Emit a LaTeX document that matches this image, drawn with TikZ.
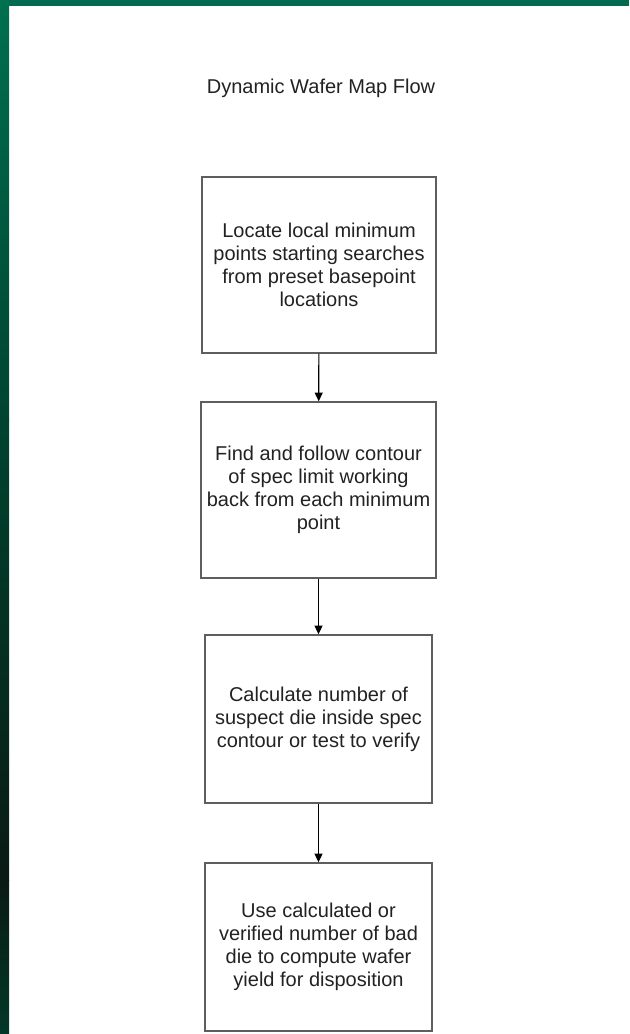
\documentclass[tikz,border=0pt]{standalone}
\usepackage{fontspec}
\setmainfont{Liberation Sans}
\usetikzlibrary{arrows.meta}
\definecolor{framegreen}{HTML}{006B50}
\definecolor{greentop}{HTML}{00704F}
\definecolor{greenmid}{HTML}{00442F}
\definecolor{greendark}{HTML}{0A1A14}
\definecolor{greenbot}{HTML}{033828}
\definecolor{boxgray}{HTML}{5E5E5E}
\definecolor{textgray}{HTML}{222222}

\begin{document}
\begin{tikzpicture}[x=0.75pt,y=-0.75pt]
\tikzset{
  stepbox/.style={rectangle,draw=boxgray,line width=1.1pt,align=center,inner sep=2pt,
    font=\fontsize{15pt}{17.25pt}\selectfont,text=textgray},
  titletext/.style={font=\fontsize{15pt}{17.25pt}\selectfont,text=textgray,inner sep=0pt},
  directed/.style={-{Triangle[length=6.5pt,width=6pt]},line width=0.8pt,black}
}
\useasboundingbox (0,0) rectangle (629,1034);
% frame
\fill[white] (0,0) rectangle (629,1034);
\fill[framegreen] (0,0) rectangle (629,6);
\shade[top color=greentop,bottom color=greenmid] (0,0) rectangle (9,420);
\shade[top color=greenmid,bottom color=greendark] (0,420) rectangle (9,880);
\shade[top color=greendark,bottom color=greenbot] (0,880) rectangle (9,1034);
% title
\node[titletext] (n_title) at (321,88) {Dynamic Wafer Map Flow};
% steps
\node[stepbox,minimum width=175.5pt,minimum height=132pt] (n_locate) at (319,265)
  {Locate local minimum\\points starting searches\\from preset basepoint\\locations};
\node[stepbox,minimum width=176.25pt,minimum height=132pt] (n_contour) at (318.5,490)
  {Find and follow contour\\of spec limit working\\back from each minimum\\point};
\node[stepbox,minimum width=170.25pt,minimum height=126pt] (n_calc) at (318.5,719)
  {Calculate number of\\suspect die inside spec\\contour or test to verify};
\node[stepbox,minimum width=170.25pt,minimum height=126pt] (n_yield) at (318.5,947)
  {Use calculated or\\verified number of bad\\die to compute wafer\\yield for disposition};
\draw[directed] (n_locate) -- (n_contour);
\draw[directed] (n_contour) -- (n_calc);
\draw[directed] (n_calc) -- (n_yield);
\end{tikzpicture}
\end{document}
